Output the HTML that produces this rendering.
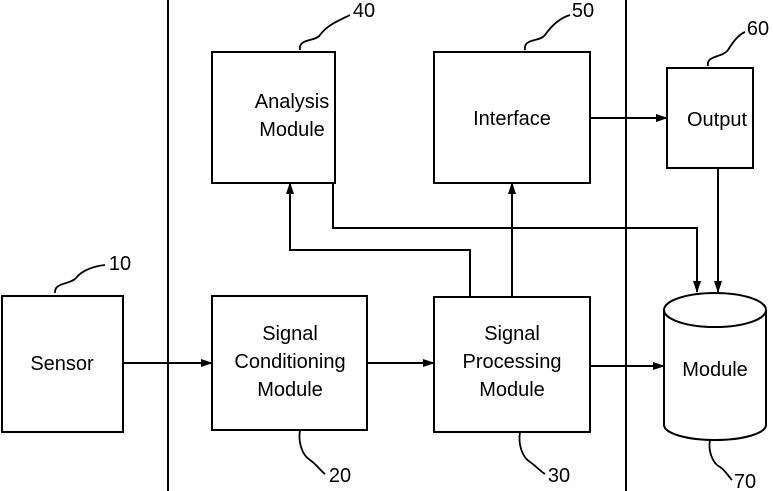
<!DOCTYPE html>
<html><head><style>body{margin:0;background:#fff}svg{display:block}</style></head><body>
<svg width="773" height="491" viewBox="0 0 773 491" xmlns="http://www.w3.org/2000/svg" font-family="Liberation Sans, sans-serif" font-size="20" fill="none" stroke="#000" stroke-width="2">
<defs><marker id="a" markerWidth="12" markerHeight="8" refX="11" refY="4" orient="auto" markerUnits="userSpaceOnUse"><path d="M0,0 L12,4 L0,8 Z" fill="#000" stroke="none"/></marker></defs>
<line x1="168" y1="0" x2="168" y2="491"/>
<line x1="626" y1="0" x2="626" y2="491"/>
<rect x="2" y="296" width="121" height="136"/>
<rect x="212" y="296" width="155" height="134"/>
<rect x="434" y="297" width="156" height="135"/>
<rect x="212" y="52" width="123" height="131"/>
<rect x="434" y="52" width="156" height="131"/>
<rect x="667" y="68" width="86" height="100"/>
<path d="M664,310 L664,425 A51,15 0 0 0 766,425 L766,310"/>
<ellipse cx="715" cy="310" rx="51" ry="17"/>
<g marker-end="url(#a)">
<line x1="123" y1="363" x2="212" y2="363"/>
<line x1="367" y1="363" x2="434" y2="363"/>
<line x1="590" y1="366" x2="664" y2="366"/>
<line x1="512" y1="297" x2="512" y2="183"/>
<polyline points="470,297 470,250 290,250 290,183"/>
<polyline points="333,183 333,228 697,228 697,292"/>
<line x1="590" y1="118" x2="667" y2="118"/>
<line x1="718" y1="168" x2="718" y2="292"/>
</g>
<g stroke-width="1.8">
<path d="M300,50 C298,38 315,42 320,35 C327,25 340,20 350,15"/>
<path d="M525,50 C523,38 540,42 545,35 C552,25 560,18 570,15"/>
<path d="M708,66 C706,55 722,58 728,50 C733,42 738,35 745,32"/>
<path d="M55,293 C54,282 70,285 76,278 C82,270 95,266 105,265"/>
<path d="M300,430 C298,442 302,455 310,460 C316,464 320,470 325,474"/>
<path d="M520,432 C518,444 522,457 530,462 C536,466 540,471 545,474"/>
<path d="M710,440 C708,450 712,463 720,467 C725,470 728,476 732,480"/>
</g>
<g fill="#000" stroke="none" text-anchor="middle">
<text x="62" y="370">Sensor</text>
<text x="290" y="340">Signal</text>
<text x="290" y="368">Conditioning</text>
<text x="290" y="396">Module</text>
<text x="512" y="340">Signal</text>
<text x="512" y="368">Processing</text>
<text x="512" y="396">Module</text>
<text x="292" y="108">Analysis</text>
<text x="292" y="136">Module</text>
<text x="512" y="125">Interface</text>
<text x="717" y="126">Output</text>
<text x="715" y="376">Module</text>
<text x="364" y="17">40</text>
<text x="583" y="17">50</text>
<text x="758" y="35">60</text>
<text x="120" y="270">10</text>
<text x="340" y="482">20</text>
<text x="559" y="482">30</text>
<text x="745" y="488">70</text>
</g>
</svg>
</body></html>
